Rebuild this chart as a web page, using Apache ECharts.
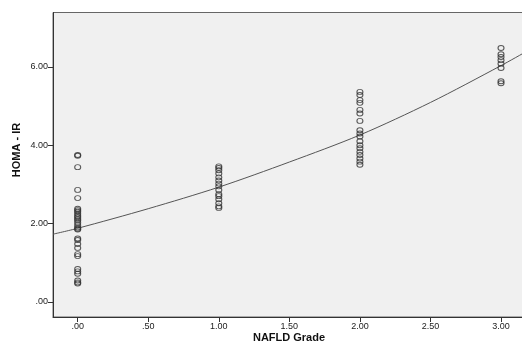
<!DOCTYPE html>
<html>
<head>
<meta charset="utf-8">
<script src="https://cdn.jsdelivr.net/npm/echarts@6/dist/echarts.min.js"></script>
<style>html,body{margin:0;padding:0;background:#fff;overflow:hidden;}#c{width:526px;height:347px;}</style>
</head>
<body>
<div id="c"></div>
<script>
// NAFLD grade groups and HOMA-IR values
var grade0 = [3.75, 3.73, 3.44, 2.86, 2.65, 2.38, 2.34, 2.30, 2.25, 2.20, 2.16, 2.12, 2.08, 2.02, 1.96, 1.90, 1.87, 1.85, 1.62, 1.58, 1.48, 1.38, 1.22, 1.17, 0.84, 0.78, 0.72, 0.55, 0.50, 0.47];
var grade1 = [3.46, 3.42, 3.36, 3.28, 3.18, 3.10, 3.02, 2.95, 2.86, 2.75, 2.70, 2.62, 2.52, 2.44, 2.40];
var grade2 = [5.36, 5.28, 5.15, 5.08, 4.90, 4.81, 4.62, 4.38, 4.30, 4.22, 4.10, 4.00, 3.92, 3.83, 3.75, 3.66, 3.58, 3.50];
var grade3 = [6.48, 6.32, 6.25, 6.17, 6.08, 5.97, 5.63, 5.58];
var groupX = [0, 1, 2, 3];
// fitted curve
var fitX = [-0.175, 0, 0.5, 1, 1.5, 2, 2.5, 3, 3.17];
var fitY = [1.73, 1.88, 2.38, 2.93, 3.57, 4.26, 5.09, 6.03, 6.37];
// tick labels
var xTicks = [0, 0.5, 1, 1.5, 2, 2.5, 3];
var xTickLabels = ['.00', '.50', '1.00', '1.50', '2.00', '2.50', '3.00'];
var yTicks = [0, 2, 4, 6];
var yTickLabels = ['.00', '2.00', '4.00', '6.00'];

var groups = [grade0, grade1, grade2, grade3];
var pts = [];
groups.forEach(function (g, i) { g.forEach(function (v) { pts.push([groupX[i], v]); }); });
var fit = fitX.map(function (x, i) { return [x, fitY[i]]; });

var font = 'Liberation Sans, Arial, sans-serif';
var chart = echarts.init(document.getElementById('c'), null, {renderer: 'canvas'});
chart.setOption({
  animation: false,
  backgroundColor: '#ffffff',
  grid: {left: 53, top: 12.5, right: 1, bottom: 30, show: true, backgroundColor: '#f0f0f0', borderColor: '#666', borderWidth: 1},
  xAxis: {
    type: 'value', min: -0.175, max: 3.17,
    splitLine: {show: false},
    axisLine: {show: true, onZero: false, lineStyle: {color: '#333'}},
    axisTick: {show: true, length: 5, lineStyle: {color: '#333'}, customValues: xTicks},
    axisLabel: {customValues: xTicks, color: '#222', fontSize: 9, fontFamily: font, margin: 5,
      formatter: function (v) { var i = xTicks.indexOf(v); return i >= 0 ? xTickLabels[i] : ''; }}
  },
  yAxis: {
    type: 'value', min: -0.383, max: 7.385,
    splitLine: {show: false},
    axisLine: {show: true, onZero: false, lineStyle: {color: '#333'}},
    axisTick: {show: true, length: 5, lineStyle: {color: '#333'}, customValues: yTicks},
    axisLabel: {customValues: yTicks, color: '#222', fontSize: 9, fontFamily: font, margin: 5,
      formatter: function (v) { var i = yTicks.indexOf(v); return i >= 0 ? yTickLabels[i] : ''; }}
  },
  graphic: [
    {type: 'text', x: 17, y: 150, rotation: Math.PI / 2, style: {text: 'HOMA - IR', font: 'bold 11px ' + font, fill: '#111', align: 'center', verticalAlign: 'middle'}},
    {type: 'text', x: 289, y: 338, style: {text: 'NAFLD Grade', font: 'bold 11px ' + font, fill: '#111', align: 'center', verticalAlign: 'middle'}}
  ],
  series: [
    {type: 'line', data: fit, smooth: 0.3, symbol: 'none', lineStyle: {color: '#555', width: 1}, z: 2},
    {type: 'scatter', data: pts, symbol: 'circle', symbolSize: [6, 5],
      itemStyle: {color: 'rgba(0,0,0,0)', borderColor: '#333', borderWidth: 1}, z: 3}
  ]
});
</script>
</body>
</html>
